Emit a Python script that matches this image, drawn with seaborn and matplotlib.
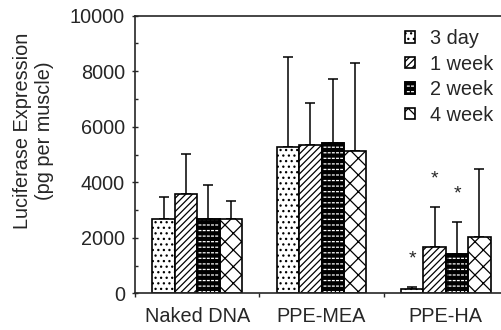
import matplotlib
matplotlib.use('Agg')
import matplotlib.pyplot as plt
from matplotlib.ticker import MultipleLocator, FixedLocator
from matplotlib.patches import Rectangle
from matplotlib.legend_handler import HandlerTuple
import seaborn as sns
import pandas as pd
import numpy as np

# ---- data ----
groups = ['Naked DNA', 'PPE-MEA', 'PPE-HA']
times = ['3 day', '1 week', '2 week', '4 week']
naked_mean = [2666, 3577, 2666, 2666]
naked_top = [3470, 5018, 3900, 3325]
mea_mean = [5281, 5331, 5425, 5126]
mea_top = [8523, 6844, 7720, 8286]
ha_mean = [170, 1679, 1416, 2039]
ha_top = [238, 3120, 2568, 4467]
ha_signif = [True, True, True, False]
y_ticks = [0, 2000, 4000, 6000, 8000, 10000]
ylabel = 'Luciferase Expression\n(pg per muscle)'

# ---- styles ----
hatch_styles = ['...', '/////', '---', 'xx']
face_colors = ['white', 'white', 'black', 'white']
hatch_colors = ['black', 'black', 'white', 'black']
overlay_hatch = [None, None, '||||', None]

means = {'Naked DNA': naked_mean, 'PPE-MEA': mea_mean, 'PPE-HA': ha_mean}
tops = {'Naked DNA': naked_top, 'PPE-MEA': mea_top, 'PPE-HA': ha_top}
rows = []
for g in groups:
    for i, t in enumerate(times):
        rows.append({'group': g, 'time': t, 'mean': means[g][i], 'top': tops[g][i]})
df = pd.DataFrame(rows)

sns.set_style('ticks')
plt.rcParams['font.family'] = ['Liberation Sans', 'DejaVu Sans']
plt.rcParams['hatch.linewidth'] = 0.9

FS = 14.3

fig = plt.figure(figsize=(5.01, 3.30), dpi=100)
ax = fig.add_axes([135 / 501, 36.7 / 330, 373 / 501, 277.6 / 330])

sns.barplot(data=df, x='group', y='mean', hue='time', order=groups, hue_order=times,
            errorbar=None, width=0.72, palette=['white'] * 4, edgecolor='black',
            linewidth=1.2, legend=False, ax=ax, zorder=2)

bar_containers = list(ax.containers)
handles = []
for k, cont in enumerate(bar_containers):
    overlays = []
    for p in cont.patches:
        p.set_facecolor(face_colors[k])
        p.set_hatch(hatch_styles[k])
        p.set_edgecolor('black')
        if hasattr(p, 'set_hatchcolor'):
            p.set_hatchcolor(hatch_colors[k])
        else:
            p._hatch_color = matplotlib.colors.to_rgba(hatch_colors[k])
        if overlay_hatch[k]:
            r = Rectangle(p.get_xy(), p.get_width(), p.get_height(), fill=False,
                          hatch=overlay_hatch[k], edgecolor='black', linewidth=1.2,
                          zorder=2.1)
            ax.add_patch(r)
            overlays.append(r)
    if overlays:
        handles.append((cont.patches[0], overlays[0]))
    else:
        handles.append(cont.patches[0])

# error bars (upper only)
for k, cont in enumerate(bar_containers):
    sub = df[df['time'] == times[k]].set_index('group').loc[groups]
    xs = [p.get_x() + p.get_width() / 2 for p in cont.patches]
    up = (sub['top'] - sub['mean']).values
    ax.errorbar(xs, sub['mean'].values, yerr=[np.zeros_like(up), up], fmt='none',
                ecolor='black', elinewidth=1.1, capsize=3.6, capthick=1.1, zorder=1)
    if ha_signif[k]:
        p = cont.patches[groups.index('PPE-HA')]
        ax.text(p.get_x() + p.get_width() / 2, ha_top[k] + 1000, '*', ha='center',
                va='center', fontsize=14)

ax.set_xlim(-0.5, 2.5)
ax.set_ylim(0, 10000)
ax.yaxis.set_major_locator(FixedLocator(y_ticks))
ax.yaxis.set_minor_locator(MultipleLocator(1000))
ax.xaxis.set_minor_locator(FixedLocator([-0.5, 0.5, 1.5, 2.5]))
ax.tick_params(axis='y', which='major', direction='inout', length=4.5, width=1.0,
               labelsize=FS, pad=5)
ax.tick_params(axis='y', which='minor', direction='in', length=2.5, width=1.0)
ax.tick_params(axis='x', which='major', length=0, labelsize=FS, pad=10)
ax.tick_params(axis='x', which='minor', direction='out', length=3, width=1.0)
ax.set_xlabel('')
ax.set_ylabel(ylabel, fontsize=FS, linespacing=1.2)
ax.yaxis.set_label_coords(-0.217, 0.585)
for s in ax.spines.values():
    s.set_linewidth(1.2)
    s.set_visible(True)

ax.legend(handles=handles, labels=times, loc='upper left',
          bbox_to_anchor=(405 / 501, (330 - 29) / 330), bbox_transform=fig.transFigure,
          handler_map={tuple: HandlerTuple(ndivide=1, pad=0)},
          frameon=False, fontsize=FS, handlelength=0.5, handleheight=0.5,
          handletextpad=0.75, labelspacing=0.33, borderpad=0, borderaxespad=0)

fig.savefig('out.png', dpi=100)
